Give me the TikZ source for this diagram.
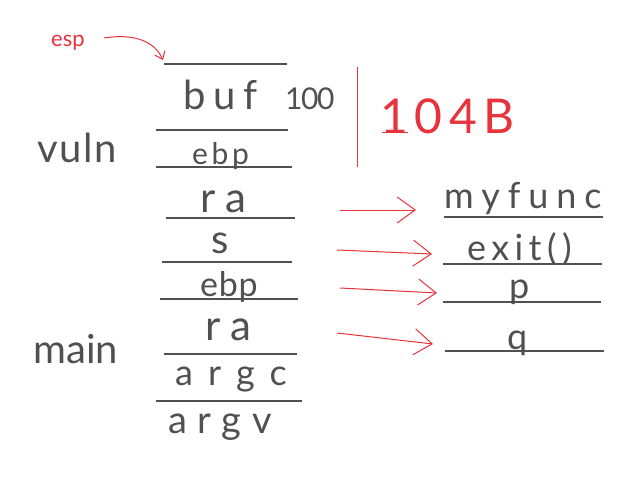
\documentclass[tikz,border=0pt]{standalone}
\usepackage{fontspec}
\setmainfont{Lato}
\usetikzlibrary{arrows.meta}
\definecolor{ink}{HTML}{505050}
\definecolor{pen}{HTML}{E8323C}
\tikzset{
  slot/.style={draw=ink, line width=1.1pt},
  lbl/.style 2 args={text=ink, inner sep=0pt, anchor=base west,
    font=\fontsize{#1}{#1}\selectfont\addfontfeatures{LetterSpace=#2}},
  redlbl/.style 2 args={text=pen, inner sep=0pt, anchor=base west,
    font=\fontsize{#1}{#1}\selectfont\addfontfeatures{LetterSpace=#2}},
  redline/.style={draw=pen, line width=1pt},
  redarrow/.style={draw=pen, line width=1pt, -{Straight Barb[length=18pt,width=26pt]}},
}
\begin{document}
\begin{tikzpicture}[x=1pt,y=-1pt]
\useasboundingbox (0,0) rectangle (639,492);
% stack lines
\draw[slot] (164,64) -- (287,64);
\draw[slot] (156,130) -- (288,130);
\draw[slot] (156,167) -- (292,167);
\draw[slot] (166,218) -- (295,218);
\draw[slot] (162,262) -- (292,262);
\draw[slot] (160,299) -- (298,299);
\draw[slot] (164,354) -- (297,354);
\draw[slot] (156,401) -- (302,401);
% right lines
\draw[slot] (444,217) -- (603,217);
\draw[slot] (443,264) -- (602,264);
\draw[slot] (443,302) -- (601,302);
\draw[slot] (445,351) -- (604,351);
% stack labels
\node[lbl={40}{20}] (buf) at (183,110) {buf};
\node[lbl={30}{-5}] (hundred) at (285,110) {100};
\node[lbl={30}{12}] (ebp1) at (192,164) {ebp};
\node[lbl={42}{24}] (ra1) at (200,212) {ra};
\node[lbl={40}{0}] (s) at (211,253) {s};
\node[lbl={34}{2}] (ebp2) at (200,296) {ebp};
\node[lbl={42}{24}] (ra2) at (205,340) {ra};
\node[lbl={36}{42}] (argc) at (175,385) {argc};
\node[lbl={38}{28}] (argv) at (168,433) {argv};
\node[lbl={40}{4}] (vuln) at (37,162) {vuln};
\node[lbl={40}{0}] (main) at (33,363) {main};
% right labels
\node[lbl={36}{22}] (myfunc) at (444,208) {myfunc};
\node[lbl={36}{15}] (exit) at (467,260) {exit()};
\node[lbl={36}{0}] (p) at (509,298) {p};
\node[lbl={36}{0}] (q) at (507,349) {q};
% red annotations
\node[redlbl={22}{0}] (esp) at (51,47) {esp};
\coordinate (espa) at (104,38);
\coordinate (espb) at (163,60);
\draw[redline, -{Straight Barb[length=7pt,width=11pt]}] (espa) .. controls (135,33) and (155,42) .. (espb);
\coordinate (brt) at (357,67);
\coordinate (brb) at (357,167);
\draw[redline] (brt) -- (brb);
\node[redlbl={48}{14}] (size) at (380,133) {104B};
\coordinate (ul1) at (382,132);
\coordinate (ul2) at (408,132);
\draw[redline] (ul1) -- (ul2);
% arrows
\coordinate (a1s) at (340,210); \coordinate (a1e) at (416,210);
\coordinate (a2s) at (337,250); \coordinate (a2e) at (432,254);
\coordinate (a3s) at (340,288); \coordinate (a3e) at (437,293);
\coordinate (a4s) at (337,333); \coordinate (a4e) at (433,344);
\draw[redarrow] (a1s) -- (a1e);
\draw[redarrow] (a2s) -- (a2e);
\draw[redarrow] (a3s) -- (a3e);
\draw[redarrow] (a4s) -- (a4e);
\end{tikzpicture}
\end{document}
